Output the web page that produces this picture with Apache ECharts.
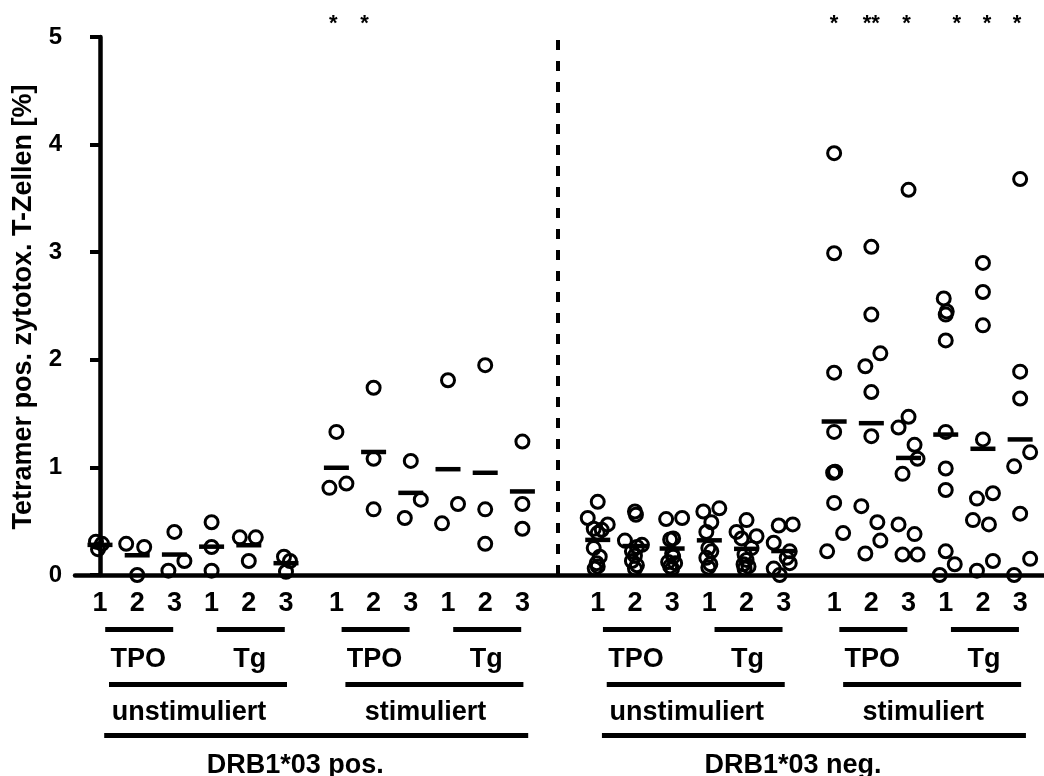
<!DOCTYPE html>
<html>
<head>
<meta charset="utf-8">
<script src="https://cdn.jsdelivr.net/npm/echarts@6/dist/echarts.min.js"></script>
<style>
  html, body { margin: 0; padding: 0; background: #fff; }
  #chart { width: 1044px; height: 776px; }
</style>
</head>
<body>
<div id="chart"></div>
<script>
// ---- grouping of the x axis ----
const hlaGroups = ['DRB1*03 pos.', 'DRB1*03 neg.'];
const conditions = ['unstimuliert', 'stimuliert'];
const antigens = ['TPO', 'Tg'];
const epitopes = ['1', '2', '3'];
const yTicks = [0, 1, 2, 3, 4, 5];
const yTitle = 'Tetramer pos. zytotox. T-Zellen [%]';

// ---- tetramer-positive cytotoxic T cells [%], one list per epitope ----
const posUnstimTPO = [[0.31, 0.29, 0.24], [0.29, 0.26, 0.00], [0.40, 0.13, 0.04]];
const posUnstimTg  = [[0.49, 0.26, 0.04], [0.35, 0.35, 0.13], [0.17, 0.13, 0.03]];
const posStimTPO   = [[1.33, 0.81, 0.85], [1.74, 1.08, 0.61], [1.06, 0.70, 0.53]];
const posStimTg    = [[1.81, 0.66, 0.48], [1.95, 0.61, 0.29], [1.24, 0.66, 0.43]];
const negUnstimTPO = [
  [0.68, 0.53, 0.47, 0.43, 0.42, 0.39, 0.25, 0.17, 0.11, 0.08, 0.06],
  [0.59, 0.56, 0.32, 0.28, 0.26, 0.22, 0.18, 0.13, 0.09, 0.06],
  [0.52, 0.53, 0.34, 0.33, 0.20, 0.17, 0.12, 0.11, 0.08, 0.06]
];
const negUnstimTg = [
  [0.59, 0.62, 0.49, 0.40, 0.25, 0.22, 0.16, 0.10, 0.07],
  [0.51, 0.40, 0.36, 0.34, 0.25, 0.19, 0.14, 0.10, 0.08, 0.06],
  [0.46, 0.47, 0.30, 0.22, 0.16, 0.11, 0.06, 0.00]
];
const negStimTPO = [
  [3.92, 2.99, 1.88, 1.33, 0.95, 0.96, 0.955, 0.67, 0.39, 0.22],
  [3.05, 2.42, 2.06, 1.94, 1.70, 1.29, 0.64, 0.49, 0.32, 0.20],
  [3.58, 1.47, 1.37, 1.21, 1.08, 0.94, 0.47, 0.38, 0.19, 0.19]
];
const negStimTg = [
  [2.57, 2.45, 2.42, 2.18, 1.33, 0.99, 0.79, 0.22, 0.10, 0.00],
  [2.90, 2.63, 2.32, 1.26, 0.76, 0.71, 0.51, 0.47, 0.13, 0.04],
  [3.68, 1.89, 1.64, 1.14, 1.01, 0.57, 0.15, 0.00]
];

// significance marks above the columns: [hla, condition, antigen, epitope]
const sigMarks = ['*', '*', '*', '**', '*', '*', '*', '*'];
const sigColumns = [[0, 1, 0, 0], [0, 1, 0, 1], [1, 1, 0, 0], [1, 1, 0, 1], [1, 1, 0, 2], [1, 1, 1, 0], [1, 1, 1, 1], [1, 1, 1, 2]];

// ---- layout ----
const GRID_LEFT = 75, GRID_TOP = 37, GRID_BOTTOM = 201, CHART_W = 1044;
const COND_GAP = 6.355, GROUP_GAP = 13.38;   // axis units (1 unit = one epitope column)
const X_MIN = -0.672;
const PX_PER_UNIT = 37.2;
const X_MAX = X_MIN + (CHART_W - GRID_LEFT) / PX_PER_UNIT;
const DIVIDER_X = 12.31;
const FONT = '"Liberation Sans", Arial, sans-serif';

// horizontal scatter of the individual donors inside a column (pixels)
const spread = {
  posUnstimTPO: [[-4, 2, -2], [-11, 7, 0], [0, 10, -6]],
  posUnstimTg: [[0, 0, 0], [-9, 7, 0], [-2, 4, 0]],
  posStimTPO: [[0, -7, 10], [0, 0, 0], [0, 10, -6]],
  posStimTg: [[0, 10, -6], [0, 0, 0], [0, 0, 0]],
  negUnstimTPO: [[0, -10, 10, -4, 4, 0, -4, 2, -1, 0, -3], [0, 1, -10, 7, 2, -3, 0, -3, 2, 0], [-6, 10, 1, -2, 0, 1, -4, 3, -2, 0]],
  negUnstimTg: [[-6, 10, 2, -3, -1, 2, -3, 1, -1], [0, -10, 10, -5, 5, -2, 0, -3, 2, -2], [-5, 9, -10, 6, 3, 6, -10, -4]],
  negStimTPO: [[0, 0, 0, 0, -1, 1, 0, 0, 9, -7], [0, 0, 9, -6, 0, 0, -10, 6, 9, -6], [0, 0, -10, 6, 9, -6, -10, 6, -6, 9]],
  negStimTg: [[-2, 1, 0, 0, 0, 0, 0, 0, 9, -6], [0, 0, 0, 0, 10, -6, -10, 6, 10, -6], [0, 0, 0, 10, -6, 0, 10, -6]]
};

const blocks = [
  { g: 0, s: 0, a: 0, vals: posUnstimTPO, sp: spread.posUnstimTPO },
  { g: 0, s: 0, a: 1, vals: posUnstimTg, sp: spread.posUnstimTg },
  { g: 0, s: 1, a: 0, vals: posStimTPO, sp: spread.posStimTPO },
  { g: 0, s: 1, a: 1, vals: posStimTg, sp: spread.posStimTg },
  { g: 1, s: 0, a: 0, vals: negUnstimTPO, sp: spread.negUnstimTPO },
  { g: 1, s: 0, a: 1, vals: negUnstimTg, sp: spread.negUnstimTg },
  { g: 1, s: 1, a: 0, vals: negStimTPO, sp: spread.negStimTPO },
  { g: 1, s: 1, a: 1, vals: negStimTg, sp: spread.negStimTg }
];

function columnX(g, s, a, e) {
  return g * GROUP_GAP + s * COND_GAP + a * epitopes.length + e;
}

const points = [];
const means = [];
const tickValues = [];
const tickText = {};
blocks.forEach(b => {
  b.vals.forEach((list, e) => {
    const cx = columnX(b.g, b.s, b.a, e);
    tickValues.push(cx);
    tickText[cx.toFixed(3)] = epitopes[e];
    list.forEach((v, i) => points.push([cx + b.sp[e][i] / PX_PER_UNIT, v]));
    means.push([cx, list.reduce((t, v) => t + v, 0) / list.length]);
  });
});

const chart = echarts.init(document.getElementById('chart'), null, { renderer: 'canvas' });

chart.setOption({
  animation: false,
  backgroundColor: '#fff',
  grid: { left: GRID_LEFT, right: 0, top: GRID_TOP, bottom: GRID_BOTTOM },
  xAxis: {
    type: 'value', min: X_MIN, max: X_MAX,
    axisLine: { show: true, onZero: false, lineStyle: { color: '#000', width: 4.5 } },
    axisTick: { show: false },
    splitLine: { show: false },
    axisLabel: {
      customValues: tickValues,
      formatter: v => tickText[Number(v).toFixed(3)] || '',
      color: '#000', fontFamily: FONT, fontWeight: 'bold', fontSize: 27, margin: 15
    }
  },
  yAxis: {
    type: 'value', min: yTicks[0], max: yTicks[yTicks.length - 1], interval: 1,
    axisLine: { show: true, lineStyle: { color: '#000', width: 4.5 } },
    axisTick: { show: true, length: 10, lineStyle: { color: '#000', width: 4 } },
    splitLine: { show: false },
    axisLabel: {
      formatter: v => String(v),
      color: '#000', fontFamily: FONT, fontWeight: 'bold', fontSize: 24, margin: 13
    }
  },
  series: [
    {
      type: 'scatter', name: 'Einzelwerte', data: points, clip: false,
      symbol: 'circle', symbolSize: 13,
      itemStyle: { color: 'rgba(0,0,0,0)', borderColor: '#000', borderWidth: 3, opacity: 1 },
      emphasis: { disabled: true }, silent: true, z: 2,
      markLine: {
        silent: true, symbol: 'none', label: { show: false },
        lineStyle: { color: '#000', width: 4, type: [10, 11], opacity: 1 },
        data: [{ xAxis: DIVIDER_X }]
      }
    },
    {
      type: 'scatter', name: 'Mittelwert', data: means, clip: false,
      symbol: 'rect', symbolSize: [25, 4.5],
      itemStyle: { color: '#000', opacity: 1 },
      emphasis: { disabled: true }, silent: true, z: 3
    }
  ]
});

// ---- grouping labels and brackets below the axis ----
const px = v => chart.convertToPixel({ xAxisIndex: 0 }, v);
const graphics = [];
const text = (str, x, y, size, extra) => graphics.push(Object.assign({
  type: 'text', x: x, y: y, silent: true,
  style: { text: str, fill: '#000', fontFamily: FONT, fontWeight: 'bold', fontSize: size, align: 'center', verticalAlign: 'middle' }
}, extra || {}));
const bar = (x1, x2, yc, h) => graphics.push({
  type: 'rect', silent: true, shape: { x: x1, y: yc - h / 2, width: x2 - x1, height: h }, style: { fill: '#000' }
});

hlaGroups.forEach((hla, g) => {
  conditions.forEach((cond, s) => {
    antigens.forEach((ag, a) => {
      const c = px(columnX(g, s, a, 1));
      bar(c - 34 + 2, c + 34 + 2, 629.5, 5);
      text(ag, c + 1, 659.5, 27);
    });
    const c1 = px(columnX(g, s, 0, 0)), c2 = px(columnX(g, s, 1, 2));
    const mid = (c1 + c2) / 2;
    bar(mid - 89 + 5, mid + 89 + 5, 684.5, 5);
    text(cond, mid - 4, 712.5, 27);
  });
  const l = px(columnX(g, 0, 0, 0)), r = px(columnX(g, 1, 1, 2));
  const mid = (l + r) / 2;
  bar(mid - 212 + 5, mid + 212 + 5, 735.5, 5);
  text(hla, mid - 16, 765.5, 27);
});

// significance asterisks
const sigShift = [-3, -9, 0, 0, -2, 11, 4, -3];
sigMarks.forEach((m, i) => {
  const c = sigColumns[i];
  text(m, px(columnX(c[0], c[1], c[2], c[3])) + sigShift[i], 24, 22);
});

// axis title
text(yTitle, 24, 307, 27, { rotation: Math.PI / 2 });

chart.setOption({ graphic: graphics });
</script>
</body>
</html>
